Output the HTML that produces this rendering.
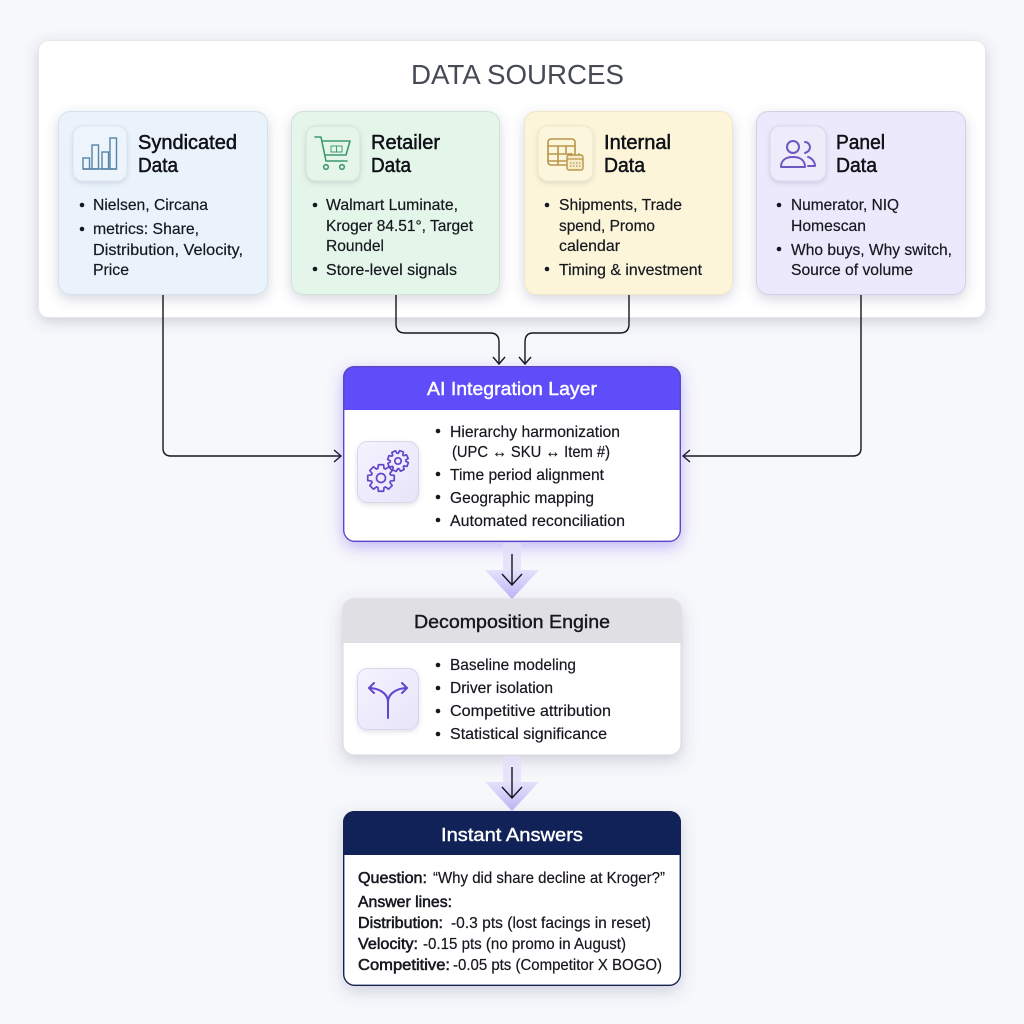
<!DOCTYPE html>
<html><head><meta charset="utf-8"><style>
html,body{margin:0;padding:0;background:#f7f8fb}
svg{display:block}
text{font-family:"Liberation Sans",sans-serif;fill:#16181f;font-size:16px;stroke:#16181f;stroke-width:.2}
.h{font-size:20px;fill:#0f1117;stroke:#0f1117;stroke-width:.5}
.t{font-size:19px;stroke-width:.4}
.w{fill:#fff;stroke:#fff}
.b{stroke-width:.55;stroke:#16181f}
.c{fill:none;stroke:#14161c;stroke-width:1.4}
.i{fill:none;stroke-width:1.6;stroke-linecap:round;stroke-linejoin:round}
.gear{vector-effect:non-scaling-stroke}
</style></head><body>
<svg width="1024" height="1024" viewBox="0 0 1024 1024" xmlns="http://www.w3.org/2000/svg">
<defs>
<filter id="s1" x="-10%" y="-15%" width="120%" height="135%"><feDropShadow dx="0" dy="4" stdDeviation="7" flood-color="#4a5070" flood-opacity=".24"/></filter>
<filter id="s2" x="-15%" y="-15%" width="130%" height="135%"><feDropShadow dx="0" dy="4" stdDeviation="6" flood-color="#50587a" flood-opacity=".24"/></filter>
<filter id="s3" x="-15%" y="-15%" width="130%" height="140%"><feDropShadow dx="0" dy="5" stdDeviation="8" flood-color="#6a50f0" flood-opacity=".4"/></filter>
<filter id="s4" x="-15%" y="-15%" width="130%" height="140%"><feDropShadow dx="0" dy="5" stdDeviation="8" flood-color="#50587a" flood-opacity=".25"/></filter>
<filter id="s5" x="-20%" y="-20%" width="140%" height="150%"><feDropShadow dx="0" dy="2" stdDeviation="2" flood-color="#50587a" flood-opacity=".18"/></filter>
<linearGradient id="ar" x1="0" y1="0" x2="0" y2="1"><stop offset="0" stop-color="#e4e1fb"/><stop offset="1" stop-color="#bfb6f8"/></linearGradient>
<linearGradient id="ib" x1="0" y1="0" x2="1" y2="1"><stop offset="0" stop-color="#f4f3fd"/><stop offset="1" stop-color="#e7e4fa"/></linearGradient>
<clipPath id="ca"><rect x="343" y="366" width="338" height="176" rx="11"/></clipPath>
<clipPath id="cd"><rect x="343" y="599" width="338" height="156" rx="11"/></clipPath>
<clipPath id="cn"><rect x="343" y="811" width="338" height="175" rx="11"/></clipPath>
<polygon id="gearp" class="gear" points=".982,.191 .704,.229 .659,.336 .829,.559 .559,.829 .336,.659 .229,.704 .191,.982 -.191,.982 -.229,.704 -.336,.659 -.559,.829 -.829,.559 -.659,.336 -.704,.229 -.982,.191 -.982,-.191 -.704,-.229 -.659,-.336 -.829,-.559 -.559,-.829 -.336,-.659 -.229,-.704 -.191,-.982 .191,-.982 .229,-.704 .336,-.659 .559,-.829 .829,-.559 .659,-.336 .704,-.229 .982,-.191"/>
</defs>
<rect width="1024" height="1024" fill="#f7f8fb"/>

<!-- panel -->
<rect x="38.500" y="40.500" width="947" height="277" rx="10" fill="#fff" stroke="#e6e7ee" filter="url(#s1)"/>
<text x="411" y="84" textLength="213" lengthAdjust="spacingAndGlyphs" style="font-size:28px;fill:#454a55;stroke:none">DATA SOURCES</text>

<!-- cards -->
<rect x="58.500" y="111.500" width="209" height="183" rx="12" fill="#eaf3fc" stroke="#d5e1ec" filter="url(#s2)"/>
<rect x="291.500" y="111.500" width="208" height="183" rx="12" fill="#e4f5e9" stroke="#cfe4d6" filter="url(#s2)"/>
<rect x="524.500" y="111.500" width="208" height="183" rx="12" fill="#fcf5d9" stroke="#efe6c6" filter="url(#s2)"/>
<rect x="756.500" y="111.500" width="209" height="183" rx="12" fill="#ebe9fb" stroke="#d3cfe9" filter="url(#s2)"/>

<!-- icon boxes -->
<rect x="73" y="126" width="54" height="55" rx="10" fill="#edf4fb" stroke="#dbe4ec" filter="url(#s5)"/>
<rect x="306" y="126" width="54" height="55" rx="10" fill="#e6f5ea" stroke="#d0e4d7" filter="url(#s5)"/>
<rect x="538" y="126" width="55" height="55" rx="10" fill="#fcf6dd" stroke="#efe7c9" filter="url(#s5)"/>
<rect x="770" y="126" width="56" height="55" rx="10" fill="#eeecfb" stroke="#d9d6ec" filter="url(#s5)"/>

<!-- bar icon -->
<g fill="none" stroke="#5584a6" stroke-width="1.400"><rect x="83" y="158" width="6.500" height="11"/><rect x="92" y="145" width="6.500" height="24"/><rect x="102" y="152" width="6.500" height="17"/><rect x="110" y="138" width="6.500" height="31"/><path d="M83 169H117"/></g>
<!-- cart icon -->
<g class="i" stroke="#3d9a6c"><path d="M315 137H321L326 161H347"/><path d="M323 141H350L346 155H326"/><circle cx="326" cy="167" r="2.300"/><circle cx="342" cy="167" r="2.300"/><path d="M331 146H342V152H331ZM336.500 146V152" stroke-width="1"/></g>
<!-- table icon -->
<g class="i" stroke="#b8954a"><rect x="548" y="139" width="27" height="26" rx="3"/><path d="M548 146H575M548 154H572M548 161H566M558 146V165M566 146V154"/></g>
<rect x="567" y="155" width="16" height="15" rx="2" fill="#f6ecc8" stroke="#b8954a" stroke-width="1.400"/><path d="M567 159H583M571 153V156M579 153V156" stroke="#b8954a" stroke-width="1.200"/><path d="M570 163H581M570 166H581" stroke="#b8954a" stroke-width="1.200" stroke-dasharray="1.500 1.500"/>
<!-- people icon -->
<g class="i" stroke="#6d57c4" style="stroke-width:2"><circle cx="793" cy="147" r="6"/><path d="M781 167C781 160 786 157 793 157C800 157 805 160 805 167Z"/><path d="M805 142C808 142 810 145 810 147C810 150 808 152 805 153"/><path d="M808 157C812 158 815 162 815 166H808"/></g>

<!-- headings -->
<text class="h" x="138" y="149" textLength="99" lengthAdjust="spacingAndGlyphs">Syndicated</text>
<text class="h" x="138" y="172" textLength="40" lengthAdjust="spacingAndGlyphs">Data</text>
<text class="h" x="371" y="149" textLength="69" lengthAdjust="spacingAndGlyphs">Retailer</text>
<text class="h" x="371" y="172" textLength="40" lengthAdjust="spacingAndGlyphs">Data</text>
<text class="h" x="604" y="149" textLength="67" lengthAdjust="spacingAndGlyphs">Internal</text>
<text class="h" x="604" y="172" textLength="41" lengthAdjust="spacingAndGlyphs">Data</text>
<text class="h" x="836" y="149" textLength="49" lengthAdjust="spacingAndGlyphs">Panel</text>
<text class="h" x="836" y="172" textLength="41" lengthAdjust="spacingAndGlyphs">Data</text>

<!-- card bullets -->
<g fill="#16181f">
<circle cx="82" cy="205" r="2.300"/><circle cx="82" cy="229" r="2.300"/>
<circle cx="315" cy="205" r="2.300"/><circle cx="315" cy="269" r="2.300"/>
<circle cx="547" cy="205" r="2.300"/><circle cx="547" cy="269" r="2.300"/>
<circle cx="779" cy="205" r="2.300"/><circle cx="779" cy="249" r="2.300"/>
</g>

<text x="93" y="210" textLength="115" lengthAdjust="spacingAndGlyphs">Nielsen, Circana</text>
<text x="93" y="234" textLength="106" lengthAdjust="spacingAndGlyphs">metrics: Share,</text>
<text x="93" y="255" textLength="150" lengthAdjust="spacingAndGlyphs">Distribution, Velocity,</text>
<text x="93" y="275" textLength="36" lengthAdjust="spacingAndGlyphs">Price</text>

<text x="326" y="210" textLength="132" lengthAdjust="spacingAndGlyphs">Walmart Luminate,</text>
<text x="326" y="231" textLength="147" lengthAdjust="spacingAndGlyphs">Kroger 84.51°, Target</text>
<text x="326" y="251" textLength="58" lengthAdjust="spacingAndGlyphs">Roundel</text>
<text x="326" y="275" textLength="131" lengthAdjust="spacingAndGlyphs">Store-level signals</text>

<text x="559" y="210" textLength="123" lengthAdjust="spacingAndGlyphs">Shipments, Trade</text>
<text x="559" y="231" textLength="96" lengthAdjust="spacingAndGlyphs">spend, Promo</text>
<text x="559" y="251" textLength="61" lengthAdjust="spacingAndGlyphs">calendar</text>
<text x="559" y="275" textLength="143" lengthAdjust="spacingAndGlyphs">Timing &amp; investment</text>

<text x="791" y="210" textLength="108" lengthAdjust="spacingAndGlyphs">Numerator, NIQ</text>
<text x="791" y="231" textLength="75" lengthAdjust="spacingAndGlyphs">Homescan</text>
<text x="791" y="255" textLength="161" lengthAdjust="spacingAndGlyphs">Who buys, Why switch,</text>
<text x="791" y="275" textLength="122" lengthAdjust="spacingAndGlyphs">Source of volume</text>

<!-- connectors -->
<path class="c" d="M163 295V448Q163 456 171 456H340"/>
<path class="c" d="M334 450L341 456L334 462"/>
<path class="c" d="M861 295V448Q861 456 853 456H684"/>
<path class="c" d="M690 450L683 456L690 462"/>
<path class="c" d="M396 295V324Q396 333 405 333H490Q499 333 499 342V364"/>
<path class="c" d="M493 357L499 364L505 357"/>
<path class="c" d="M629 295V324Q629 333 620 333H533Q525 333 525 342V364"/>
<path class="c" d="M519 357L525 364L531 357"/>

<!-- AI box -->
<rect x="343" y="366" width="338" height="176" rx="11" fill="#fff" filter="url(#s3)"/>
<rect x="343" y="366" width="338" height="44" fill="#5f4dfa" clip-path="url(#ca)"/>
<rect x="343.700" y="366.700" width="336.600" height="174.600" rx="11" fill="none" stroke="#5a48c8" stroke-width="1.400"/>
<text class="t w" x="427" y="395" textLength="170" lengthAdjust="spacingAndGlyphs" style="font-size:18px">AI Integration Layer</text>
<rect x="357.500" y="441.500" width="61" height="61" rx="10" fill="url(#ib)" stroke="#d9d6ec" filter="url(#s5)"/>
<g fill="none" stroke="#6145cc" stroke-width="1.700" stroke-linejoin="round">
<use href="#gearp" transform="translate(381 478) scale(13.500)"/>
<circle cx="381" cy="478" r="4.500"/>
<use href="#gearp" transform="translate(398 461) rotate(20) scale(10.500)"/>
<circle cx="398" cy="461" r="3.200"/>
</g>

<g fill="#16181f">
<circle cx="438" cy="431" r="2.300"/><circle cx="438" cy="474" r="2.300"/><circle cx="438" cy="497" r="2.300"/><circle cx="438" cy="520" r="2.300"/>
</g>
<text x="450" y="437" textLength="170" lengthAdjust="spacingAndGlyphs">Hierarchy harmonization</text>
<text x="452" y="457" textLength="158" lengthAdjust="spacingAndGlyphs" style="font-family:'Liberation Sans','DejaVu Sans',sans-serif">(UPC ↔ SKU ↔ Item #)</text>
<text x="450" y="480" textLength="154" lengthAdjust="spacingAndGlyphs">Time period alignment</text>
<text x="450" y="503" textLength="144" lengthAdjust="spacingAndGlyphs">Geographic mapping</text>
<text x="450" y="526" textLength="175" lengthAdjust="spacingAndGlyphs">Automated reconciliation</text>

<!-- arrow 1 -->
<rect x="503" y="543" width="18" height="28" fill="#e2dffa" opacity=".8"/>
<path d="M485 570H539L512 599Z" fill="url(#ar)"/>
<path class="c" d="M512 554V585M502 574L512 585L522 574" stroke-width="1.600"/>

<!-- Decomposition -->
<rect x="343" y="599" width="338" height="156" rx="11" fill="#fff" stroke="#d8d9df" filter="url(#s4)"/>
<rect x="343" y="599" width="338" height="44" fill="#dfdfe4" clip-path="url(#cd)"/>
<text class="t" x="414" y="628" textLength="196" lengthAdjust="spacingAndGlyphs" style="font-size:18px">Decomposition Engine</text>
<rect x="357.500" y="668.500" width="61" height="61" rx="10" fill="url(#ib)" stroke="#d9d6ec" filter="url(#s5)"/>
<g class="i" stroke="#6145cc" style="stroke-width:2"><path d="M388 718V702C388 693 378 688 369 688M388 702C388 693 398 688 407 688"/><path d="M374 683L369 688L374 693M402 683L407 688L402 693"/></g>
<g fill="#16181f">
<circle cx="438" cy="665" r="2.300"/><circle cx="438" cy="688" r="2.300"/><circle cx="438" cy="711" r="2.300"/><circle cx="438" cy="734" r="2.300"/>
</g>
<text x="450" y="670" textLength="126" lengthAdjust="spacingAndGlyphs">Baseline modeling</text>
<text x="450" y="693" textLength="103" lengthAdjust="spacingAndGlyphs">Driver isolation</text>
<text x="450" y="716" textLength="161" lengthAdjust="spacingAndGlyphs">Competitive attribution</text>
<text x="450" y="739" textLength="157" lengthAdjust="spacingAndGlyphs">Statistical significance</text>

<!-- arrow 2 -->
<rect x="503" y="756" width="18" height="27" fill="#e2dffa" opacity=".8"/>
<path d="M485 782H539L512 811Z" fill="url(#ar)"/>
<path class="c" d="M512 767V798M502 787L512 798L522 787" stroke-width="1.600"/>

<!-- Instant -->
<rect x="343" y="811" width="338" height="175" rx="11" fill="#fff" filter="url(#s4)"/>
<rect x="343" y="811" width="338" height="44" fill="#102257" clip-path="url(#cn)"/>
<rect x="343.700" y="811.700" width="336.600" height="173.600" rx="11" fill="none" stroke="#142255" stroke-width="1.400"/>
<text class="t w" x="441" y="841" textLength="142" lengthAdjust="spacingAndGlyphs" style="font-size:18px">Instant Answers</text>
<text class="b" x="358" y="883" textLength="69" lengthAdjust="spacingAndGlyphs">Question:</text>
<text x="433" y="883" textLength="232" lengthAdjust="spacingAndGlyphs">“Why did share decline at Kroger?”</text>
<text class="b" x="358" y="907" textLength="94" lengthAdjust="spacingAndGlyphs">Answer lines:</text>
<text class="b" x="358" y="928" textLength="85" lengthAdjust="spacingAndGlyphs">Distribution:</text>
<text x="451" y="928" textLength="200" lengthAdjust="spacingAndGlyphs">-0.3 pts (lost facings in reset)</text>
<text class="b" x="358" y="949" textLength="60" lengthAdjust="spacingAndGlyphs">Velocity:</text>
<text x="423" y="949" textLength="203" lengthAdjust="spacingAndGlyphs">-0.15 pts (no promo in August)</text>
<text class="b" x="358" y="970" textLength="92" lengthAdjust="spacingAndGlyphs">Competitive:</text>
<text x="453" y="970" textLength="209" lengthAdjust="spacingAndGlyphs">-0.05 pts (Competitor X BOGO)</text>
</svg>
</body></html>
